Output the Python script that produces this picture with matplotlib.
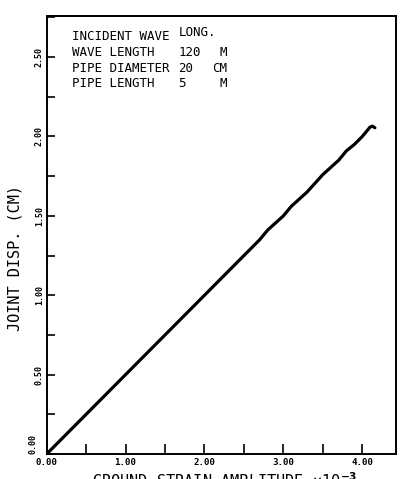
import matplotlib.pyplot as plt
from matplotlib.ticker import MultipleLocator, FuncFormatter

# joint displacement vs ground strain amplitude
strain = [0.00, 0.50, 1.00, 1.50, 2.00, 2.50, 2.70, 2.80, 3.00, 3.10, 3.30,
          3.50, 3.70, 3.80, 3.90, 4.00, 4.05, 4.10, 4.13, 4.16]
disp = [0.00, 0.25, 0.50, 0.75, 1.00, 1.25, 1.35, 1.41, 1.50, 1.56, 1.65,
        1.76, 1.85, 1.91, 1.95, 2.00, 2.03, 2.06, 2.065, 2.055]

info_labels = ["INCIDENT WAVE", "WAVE LENGTH", "PIPE DIAMETER", "PIPE LENGTH"]
info_values = ["LONG.", "120", "20", "5"]
info_units = ["", "M", "CM", "M"]

FONT = "DejaVu Sans Mono"
plt.rcParams["font.weight"] = "bold"  # tick labels; other texts set their own weight


def xfmt(v, pos):
    return f"{v:.2f}" if abs(v - round(v)) < 1e-6 and v >= 0 else ""


def yfmt(v, pos):
    # zero is drawn separately so it clears the x label
    if v <= 1e-6 or abs(v * 2 - round(v * 2)) > 1e-6:
        return ""
    return f"{v:.2f}"


fig = plt.figure(figsize=(4.0, 4.79), dpi=100)
ax = fig.add_axes([0.1165, 0.052, 0.874, 0.915])

ax.plot(strain, disp, color="black", linewidth=2.3, solid_capstyle="round")

ax.set_xlim(0, 4.43)
ax.set_ylim(0, 2.76)

ax.xaxis.set_major_locator(MultipleLocator(0.5))
ax.yaxis.set_major_locator(MultipleLocator(0.25))
ax.xaxis.set_major_formatter(FuncFormatter(xfmt))
ax.yaxis.set_major_formatter(FuncFormatter(yfmt))
ax.tick_params(direction="in", width=1.2)
ax.tick_params(axis="x", length=7, labelsize=6.6, pad=3,
               labelfontfamily=FONT)
ax.tick_params(axis="y", length=6, labelsize=6.0, pad=2, labelrotation=90,
               labelfontfamily=FONT)
plt.setp(ax.get_yticklabels(), va="center")

ax.text(-0.026, 0.0, "0.00", transform=ax.get_yaxis_transform(), rotation=90,
        ha="right", va="bottom", fontsize=6.0, family=FONT, fontweight="bold")

for sp in ax.spines.values():
    sp.set_linewidth(1.4)

ax.set_xlabel("GROUND STRAIN AMPLITUDE \u00d710$^{-3}$", fontsize=11,
              family=FONT, fontweight="normal")
ax.xaxis.set_label_coords(0.51, -0.039)
ax.xaxis.label.set_va("top")
ax.set_ylabel("JOINT DISP. (CM)", fontsize=11, family=FONT, fontweight="normal")
ax.yaxis.set_label_coords(-0.068, 0.447)

# parameter block in the upper left
rows_y = [2.632, 2.531, 2.431, 2.336]
for i, (name, val, unit) in enumerate(zip(info_labels, info_values, info_units)):
    ax.text(0.325, rows_y[i], name, fontsize=9, family=FONT, va="center",
            fontweight="normal")
    ax.text(1.67, rows_y[i] + (0.02 if i == 0 else 0), val, fontsize=9,
            family=FONT, va="center", fontweight="normal")
    if unit:
        ax.text(2.29, rows_y[i], unit, fontsize=9, family=FONT, va="center",
                ha="right", fontweight="normal")

fig.savefig("out.png", dpi=100)
